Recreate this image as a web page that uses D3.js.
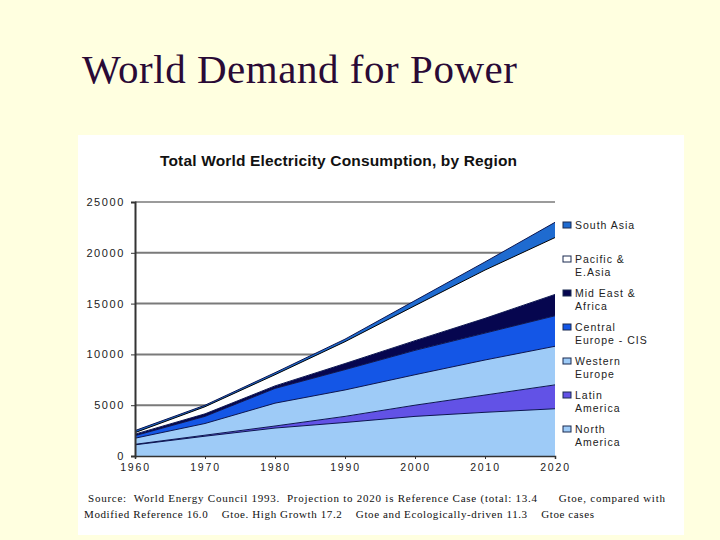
<!DOCTYPE html>
<html>
<head>
<meta charset="utf-8">
<script src="https://cdn.jsdelivr.net/npm/d3@7"></script>
<style>
  html, body { margin: 0; padding: 0; background: #ffffe0; }
  svg { display: block; }
  .pre { white-space: pre; }
</style>
</head>
<body>
<div id="chart"></div>
<script>
// données (TWh par région, empilées du bas vers le haut)
const years = [1960, 1970, 1980, 1990, 2000, 2010, 2020];
const regions = ["North America", "Latin America", "Western Europe", "Central Europe - CIS",
                 "Mid East & Africa", "Pacific & E.Asia", "South Asia"];
const northAmerica = [1100, 1950, 2750, 3300, 3900, 4300, 4650];
const latinAmerica = [50, 100, 200, 600, 1100, 1700, 2350];
const westernEurope = [600, 1150, 2250, 2600, 3000, 3450, 3800];
const centralEurope = [250, 700, 1450, 2000, 2400, 2650, 3000];
const midEast = [150, 250, 250, 600, 950, 1450, 2100];
const pacific = [150, 700, 1100, 2150, 3450, 4750, 5600];
const southAsia = [200, 150, 200, 250, 500, 800, 1500];
const yTicks = [0, 5000, 10000, 15000, 20000, 25000];

// légende : deux lignes par entrée, dans l'ordre du haut
const legendLabels = [
  ["South Asia"], ["Pacific &", "E.Asia"], ["Mid East &", "Africa"],
  ["Central", "Europe - CIS"], ["Western", "Europe"], ["Latin", "America"], ["North", "America"]
];

const seriesValues = [northAmerica, latinAmerica, westernEurope, centralEurope, midEast, pacific, southAsia];
const colors = ["#9ecbf7", "#6252e6", "#9ecbf7", "#1456e6", "#06064f", "#ffffff", "#1f6bd0"];

const table = years.map((yr, i) => {
  const row = { year: yr };
  regions.forEach((r, k) => row[r] = seriesValues[k][i]);
  return row;
});

const width = 720, height = 540;
const svg = d3.select("#chart").append("svg")
  .attr("width", width).attr("height", height);

// titre de la diapo
svg.append("text")
  .attr("x", 82).attr("y", 83)
  .attr("font-family", "'Liberation Serif', 'Times New Roman', serif")
  .attr("font-size", 41)
  .attr("textLength", 435)
  .attr("fill", "#2a0a36")
  .text("World Demand for Power");

// panneau blanc du graphique
svg.append("rect")
  .attr("x", 78).attr("y", 135).attr("width", 606).attr("height", 400)
  .attr("fill", "#fff");

svg.append("text")
  .attr("x", 160).attr("y", 166)
  .attr("font-family", "Arial, 'Liberation Sans', sans-serif")
  .attr("font-weight", "bold")
  .attr("font-size", 15.5)
  .attr("textLength", 357)
  .attr("fill", "#111")
  .text("Total World Electricity Consumption, by Region");

const x = d3.scaleLinear().domain([1960, 2020]).range([135, 555]);
const y = d3.scaleLinear().domain([0, 25000]).range([456, 202]);

// grille (masquée ensuite par les aires)
svg.append("g").selectAll("line")
  .data(yTicks.slice(1))
  .enter().append("line")
  .attr("x1", x(1960)).attr("x2", x(2020))
  .attr("y1", d => y(d)).attr("y2", d => y(d))
  .attr("stroke", "#7a7a7a")
  .attr("stroke-width", d => d === 25000 ? 1.5 : 2);

const stack = d3.stack().keys(regions);
const layers = stack(table);

const area = d3.area()
  .x(d => x(d.data.year))
  .y0(d => y(d[0]))
  .y1(d => y(d[1]));

const topLine = d3.line()
  .x(d => x(d.data.year))
  .y(d => y(d[1]));

svg.append("g").selectAll("path")
  .data(layers)
  .enter().append("path")
  .attr("d", area)
  .attr("fill", (d, i) => colors[i]);

svg.append("g").selectAll("path")
  .data(layers)
  .enter().append("path")
  .attr("d", topLine)
  .attr("fill", "none")
  .attr("stroke", (d, i) => i === 5 ? "#000" : "#0b1550")
  .attr("stroke-width", 1);

// axes
const yAxis = svg.append("g")
  .attr("transform", `translate(${x(1960)},0)`)
  .call(d3.axisLeft(y).tickValues(yTicks).tickSize(4).tickPadding(6).tickFormat(d3.format("d")));
yAxis.select(".domain").attr("stroke", "#333").attr("stroke-width", 2);
yAxis.selectAll(".tick line").attr("stroke", "#333");
yAxis.selectAll("text")
  .attr("font-family", "Arial, 'Liberation Sans', sans-serif")
  .attr("font-size", 11)
  .attr("letter-spacing", 1.6)
  .attr("fill", "#222");

const xAxis = svg.append("g")
  .attr("transform", `translate(0,${y(0)})`)
  .call(d3.axisBottom(x).tickValues(years).tickSize(3).tickPadding(5).tickFormat(d3.format("d")));
xAxis.select(".domain").attr("stroke", "#333").attr("stroke-width", 1.5);
xAxis.selectAll(".tick line").attr("stroke", "#333");
xAxis.selectAll("text")
  .attr("font-family", "Arial, 'Liberation Sans', sans-serif")
  .attr("font-size", 10.5)
  .attr("letter-spacing", 1.8)
  .attr("fill", "#222");

// légende
const legendColors = colors.slice().reverse();
const legend = svg.append("g").selectAll("g")
  .data(legendLabels)
  .enter().append("g")
  .attr("transform", (d, i) => `translate(563,${228 + i * 34})`);

legend.append("rect")
  .attr("x", 0).attr("y", -6).attr("width", 8).attr("height", 6)
  .attr("fill", (d, i) => legendColors[i])
  .attr("stroke", "#1a2a50").attr("stroke-width", 1);

legend.each(function (lines) {
  const t = d3.select(this).append("text")
    .attr("font-family", "Arial, 'Liberation Sans', sans-serif")
    .attr("font-size", 10.5)
    .attr("letter-spacing", 1)
    .attr("fill", "#222");
  lines.forEach((l, j) => {
    t.append("tspan").attr("x", 12).attr("y", j * 12.5 + 1).text(l);
  });
});

// source
const srcFont = "'Liberation Serif', 'Times New Roman', serif";
svg.append("text").attr("class", "pre")
  .attr("x", 88).attr("y", 502)
  .attr("font-family", srcFont).attr("font-size", 11).attr("fill", "#111")
  .attr("textLength", 577).attr("lengthAdjust", "spacing")
  .text("Source:  World Energy Council 1993.  Projection to 2020 is Reference Case (total: 13.4      Gtoe, compared with");
svg.append("text").attr("class", "pre")
  .attr("x", 84).attr("y", 518)
  .attr("font-family", srcFont).attr("font-size", 11).attr("fill", "#111")
  .attr("textLength", 510).attr("lengthAdjust", "spacing")
  .text("Modified Reference 16.0    Gtoe. High Growth 17.2    Gtoe and Ecologically-driven 11.3    Gtoe cases");
</script>
</body>
</html>
